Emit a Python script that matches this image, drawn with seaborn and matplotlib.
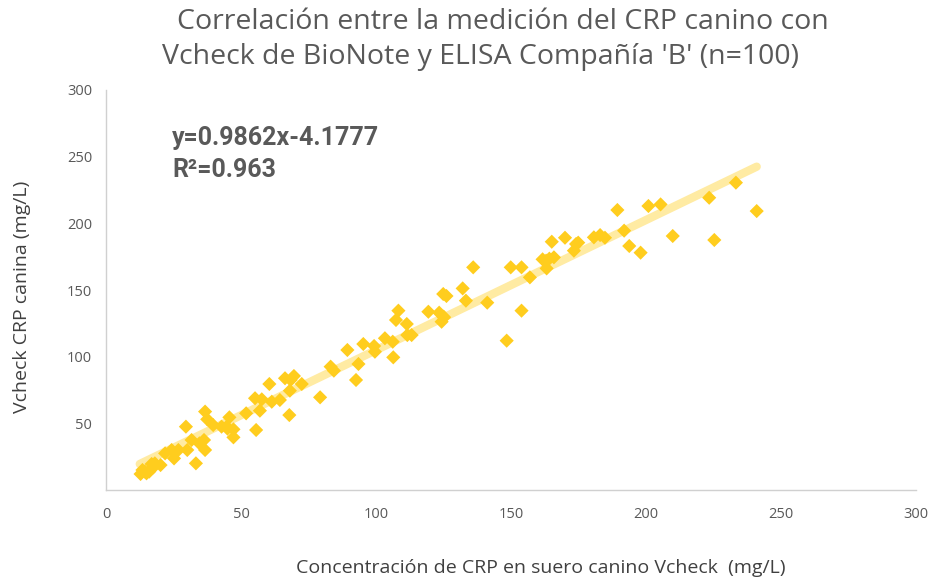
import matplotlib
matplotlib.use("Agg")
import matplotlib.pyplot as plt
import seaborn as sns
import pandas as pd

# --- data ---
elisa_x = [12.8, 14.4, 16.0, 16.9, 18.1, 20.2, 21.9, 24.3, 25.2, 26.8,
           29.6, 30.1, 31.7, 33.3, 34.6, 36.3, 36.7, 37.5, 36.7, 39.7,
           42.8, 44.7, 45.7, 47.2, 47.2, 51.9, 55.2, 55.6, 57.0, 57.7,
           60.5, 61.4, 64.4, 66.3, 67.9, 68.1, 68.4, 69.6, 72.5, 79.3,
           83.2, 84.4, 89.4, 92.6, 93.5, 95.3, 99.3, 99.6, 13.5, 17.5,
           103.3, 106.2, 106.4, 107.4, 108.3, 111.4, 111.6, 113.2, 119.4, 123.4,
           124.3, 125.2, 124.9, 126.1, 132.1, 133.3, 136.0, 141.2, 148.4, 149.9,
           153.9, 153.9, 157.0, 161.7, 163.2, 164.2, 165.9, 165.1, 170.0, 173.3,
           174.1, 174.9, 180.7, 183.0, 184.8, 189.4, 191.9, 193.8, 198.0, 200.9,
           205.4, 209.9, 223.4, 225.3, 233.3, 241.0, 15.0, 45.0, 125.0, 163.0]
vcheck_y = [12.0, 13.8, 13.8, 19.5, 20.0, 18.7, 27.5, 30.0, 23.7, 30.0,
            47.5, 30.0, 37.5, 20.0, 35.0, 37.5, 58.8, 53.0, 30.0, 48.7,
            47.5, 47.5, 54.5, 45.5, 39.5, 57.5, 68.8, 45.0, 59.5, 68.0,
            79.5, 66.2, 67.5, 83.8, 56.2, 74.5, 82.5, 85.5, 79.5, 69.5,
            92.5, 89.5, 105.0, 82.5, 94.5, 109.5, 108.0, 103.7, 15.0, 17.0,
            113.8, 111.2, 99.5, 127.5, 134.5, 124.5, 116.2, 116.2, 133.7, 133.0,
            126.2, 129.5, 147.0, 145.5, 151.2, 142.0, 167.0, 140.5, 112.0, 167.0,
            167.0, 134.5, 159.5, 173.0, 166.2, 173.5, 174.5, 186.2, 189.2, 179.5,
            184.5, 185.5, 189.5, 191.2, 189.2, 210.0, 194.5, 183.0, 178.0, 213.0,
            214.2, 190.5, 219.2, 187.5, 230.5, 209.2, 12.5, 46.0, 130.0, 172.0]

trend_x = [12.5, 241.0]
trend_y = [19.5, 242.5]

x_ticks = [0, 50, 100, 150, 200, 250, 300]
y_ticks = [50, 100, 150, 200, 250, 300]

title_line1 = "Correlación entre la medición del CRP canino con"
title_line2 = "Vcheck de BioNote y ELISA Compañía 'B' (n=100)"
xlabel = "Concentración de CRP en suero canino Vcheck  (mg/L)"
ylabel = "Vcheck CRP canina (mg/L)"
eq_text = "y=0.9862x-4.1777"
r2_text = "R²=0.963"

df = pd.DataFrame({"x": elisa_x, "y": vcheck_y})
trend = pd.DataFrame({"x": trend_x, "y": trend_y})

sns.set_theme(style="white")
plt.rcParams["font.family"] = ["Open Sans", "DejaVu Sans"]

fig = plt.figure(figsize=(9.34, 5.82), dpi=100)
ax = fig.add_axes([106 / 934, 1 - 490 / 582, 810 / 934, 400 / 582])

ax.plot(trend["x"], trend["y"], color="#FFEBA3", lw=6, solid_capstyle="round", zorder=1)
sns.scatterplot(data=df, x="x", y="y", marker="D", s=52, color="#FFCD1E",
                edgecolor="none", linewidth=0, ax=ax, zorder=2)

ax.set_xlim(0, 300)
ax.set_ylim(0, 300)
ax.set_xticks(x_ticks)
ax.set_yticks(y_ticks)
ax.tick_params(axis="both", length=0, labelsize=10.5, colors="#595959")
ax.tick_params(axis="x", pad=12)
ax.tick_params(axis="y", pad=10)
for s in ["top", "right"]:
    ax.spines[s].set_visible(False)
for s in ["left", "bottom"]:
    ax.spines[s].set_color("#D0D0D0")
    ax.spines[s].set_linewidth(1.0)

ax.set_xlabel("")
ax.set_ylabel("")
fig.text(541 / 934, 1 - 568 / 582, xlabel, ha="center", va="center",
         fontsize=14, color="#404040")
fig.text(22 / 934, 1 - 297 / 582, ylabel, ha="center", va="center",
         rotation=90, fontsize=14, color="#404040")
fig.text(503 / 934, 1 - 22 / 582, title_line1, ha="center", va="center",
         fontsize=20.5, color="#595959")
fig.text(481 / 934, 1 - 57 / 582, title_line2, ha="center", va="center",
         fontsize=20.5, color="#595959")

fig.text(172 / 934, 1 - 138 / 582, eq_text, ha="left", va="center",
         fontsize=18, fontweight="bold", color="#595959", family=["Roboto", "DejaVu Sans"])
fig.text(172 / 934, 1 - 170 / 582, r2_text, ha="left", va="center",
         fontsize=18, fontweight="bold", color="#595959", family=["Roboto", "DejaVu Sans"])

fig.savefig("out.png", dpi=100)
